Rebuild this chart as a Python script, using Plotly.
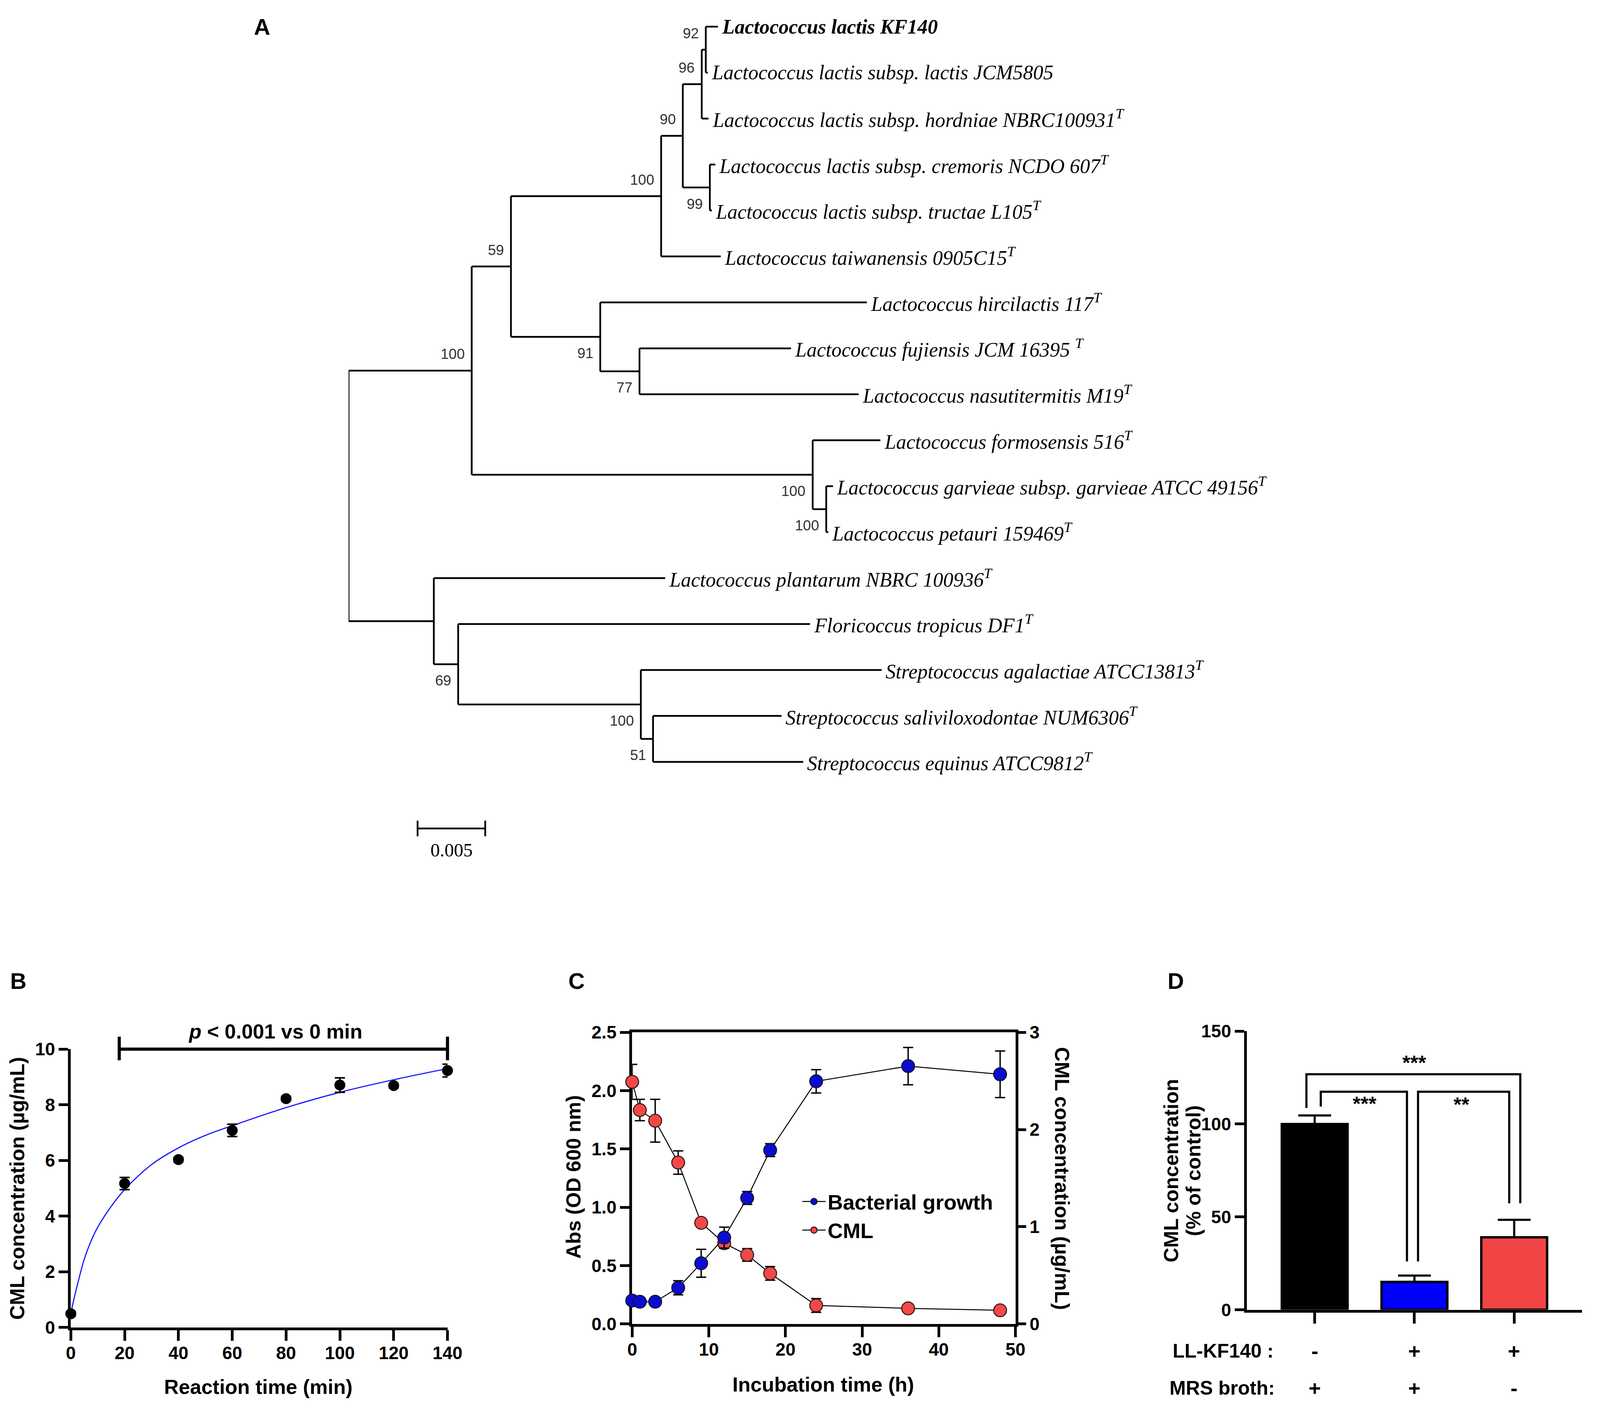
import plotly.graph_objects as go

W, H = 4550, 3623
SANS = "Liberation Sans, Arial, sans-serif"
SERIF = "Liberation Serif, Times New Roman, serif"

# ---------------- A: phylogenetic tree (nodes in preorder, children in display order)
node_parent = [-1, 0, 1, 2, 3, 4, 5, 6, 6, 5, 4, 10, 10, 3, 2, 14, 14, 16, 16,
               1, 19, 19, 21, 21, 0, 24, 24, 26, 26, 28, 28, 30, 30]
node_length = [0.0, 0.0091, 0.0029, 0.0111, 0.0016, 0.0014, 0.0003, 0.0009, 0.00015,
               0.0005, 0.0020, 0.0004, 0.00015, 0.0044, 0.0066, 0.0197, 0.0029, 0.0112,
               0.0162, 0.0252, 0.0050, 0.0010, 0.0005, 0.00015, 0.0063, 0.0171, 0.0018,
               0.0260, 0.0135, 0.0178, 0.0009, 0.0095, 0.0111]
node_support = [None, 100, 59, 100, 90, 96, 92, None, None, None, 99, None, None, None,
                91, None, 77, None, None, 100, None, 100, None, None, None, None, 69,
                None, 100, None, 51, None, None]
node_label = [
    "", "", "", "", "", "", "",
    "<b>Lactococcus lactis KF140</b>",
    "Lactococcus lactis subsp. lactis JCM5805",
    "Lactococcus lactis subsp. hordniae NBRC100931<sup>T</sup>",
    "",
    "Lactococcus lactis subsp. cremoris NCDO 607<sup>T</sup>",
    "Lactococcus lactis subsp. tructae L105<sup>T</sup>",
    "Lactococcus taiwanensis 0905C15<sup>T</sup>",
    "",
    "Lactococcus hircilactis 117<sup>T</sup>",
    "",
    "Lactococcus fujiensis JCM 16395 <sup>T</sup>",
    "Lactococcus nasutitermitis M19<sup>T</sup>",
    "",
    "Lactococcus formosensis 516<sup>T</sup>",
    "",
    "Lactococcus garvieae subsp. garvieae ATCC 49156<sup>T</sup>",
    "Lactococcus petauri 159469<sup>T</sup>",
    "",
    "Lactococcus plantarum NBRC 100936<sup>T</sup>",
    "",
    "Floricoccus tropicus DF1<sup>T</sup>",
    "",
    "Streptococcus agalactiae ATCC13813<sup>T</sup>",
    "",
    "Streptococcus saliviloxodontae NUM6306<sup>T</sup>",
    "Streptococcus equinus ATCC9812<sup>T</sup>",
]
scale_bar_length = 0.005

# ---------------- B: CML formation over reaction time
b_time = [0, 20, 40, 60, 80, 100, 120, 140]
b_cml = [0.49, 5.17, 6.03, 7.08, 8.22, 8.71, 8.69, 9.23]
b_err = [0.08, 0.22, 0.08, 0.22, 0.08, 0.26, 0.08, 0.23]
b_fit_time = [0, 1, 2.5, 5, 7.5, 10, 15, 20, 30, 40, 50, 60, 80, 100, 120, 140]
b_fit_cml = [0.5, 0.95, 1.55, 2.45, 3.1, 3.6, 4.35, 4.95, 5.85, 6.45, 6.9, 7.25,
             7.9, 8.45, 8.9, 9.3]
b_sig_text = "<i>p</i> < 0.001 vs 0 min"

# ---------------- C: growth and CML during incubation
c_time = [0, 1, 3, 6, 9, 12, 15, 18, 24, 36, 48]
c_abs = [0.20, 0.19, 0.19, 0.31, 0.52, 0.74, 1.08, 1.49, 2.08, 2.21, 2.14]
c_abs_err = [0.02, 0.02, 0.02, 0.06, 0.12, 0.09, 0.055, 0.055, 0.10, 0.16, 0.20]
c_cml = [2.49, 2.20, 2.09, 1.66, 1.04, 0.83, 0.71, 0.52, 0.19, 0.16, 0.14]
c_cml_err = [0.18, 0.11, 0.22, 0.12, 0.03, 0.05, 0.065, 0.07, 0.07, 0.02, 0.02]

# ---------------- D: CML relative to control
d_groups = [0, 1, 2]
d_values = [100, 15, 39]
d_err = [4.6, 3.4, 9.4]
d_colors = ["#000000", "#0000ff", "#f24444"]
d_ll_kf140 = ["-", "+", "+"]
d_mrs = ["+", "+", "-"]
d_pairs = [(0, 2, "***"), (0, 1, "***"), (1, 2, "**")]

# text / stroke sizes (css px)
TICK, TITLE, LETTER, TREE_TXT, BOOT_TXT = 46, 52, 58, 52, 37
AXIS_W = 7


def px_x(v):
    return v / W


def px_y(v):
    return 1 - v / H


def bold(size):
    return dict(family=SANS, size=size, color="black", weight="bold")


def prism_axis(**kw):
    ax = dict(showline=True, linecolor="black", linewidth=AXIS_W, ticks="outside",
              tickwidth=AXIS_W, ticklen=24, tickcolor="black", showgrid=False,
              zeroline=False, tickfont=bold(TICK), layer="below traces", fixedrange=True)
    ax.update(kw)
    return ax


def paper_text(text, x, y, size, angle=0, xanchor="center"):
    return dict(x=px_x(x), y=px_y(y), xref="paper", yref="paper", text=text,
                showarrow=False, textangle=angle, xanchor=xanchor, yanchor="middle",
                font=bold(size))


fig = go.Figure()
annotations = []
shapes = []

# ---- tree geometry from the node table
n = len(node_parent)
children = [[] for _ in range(n)]
for i, p in enumerate(node_parent):
    if p >= 0:
        children[p].append(i)
node_x = [0.0] * n
for i in range(n):
    if node_parent[i] >= 0:
        node_x[i] = node_x[node_parent[i]] + node_length[i]
node_y = [0.0] * n
leaf = 0
for i in range(n):
    if not children[i]:
        node_y[i] = leaf
        leaf += 1
for i in reversed(range(n)):
    if children[i]:
        node_y[i] = (node_y[children[i][0]] + node_y[children[i][-1]]) / 2

seg_x, seg_y = [], []
for i in range(n):
    p = node_parent[i]
    if p >= 0:
        seg_x += [node_x[p], node_x[i], None]
        seg_y += [node_y[i], node_y[i], None]
    if children[i]:
        seg_x += [node_x[i], node_x[i], None]
        seg_y += [node_y[children[i][0]], node_y[children[i][-1]], None]

fig.add_trace(go.Scatter(x=seg_x, y=seg_y, mode="lines", xaxis="x", yaxis="y",
                         line=dict(color="black", width=4.5), showlegend=False,
                         hoverinfo="skip"))

for i in range(n):
    if node_label[i]:
        annotations.append(dict(
            x=node_x[i], y=node_y[i], xref="x", yref="y", text=node_label[i],
            showarrow=False, xanchor="left", yanchor="middle", xshift=8,
            font=dict(family=SERIF, size=TREE_TXT, color="black", style="italic")))
    if node_support[i] is not None:
        first = children[node_parent[i]][0] == i
        annotations.append(dict(
            x=node_x[i], y=node_y[i], xref="x", yref="y", text=str(node_support[i]),
            showarrow=False, xanchor="right", yanchor="middle", xshift=-16,
            yshift=42 if first else -42,
            font=dict(family=SANS, size=BOOT_TXT, color="#333333")))

# scale bar
sb_x0, sb_y = 0.0051, 17.45
fig.add_trace(go.Scatter(
    x=[sb_x0, sb_x0 + scale_bar_length, None, sb_x0, sb_x0, None,
       sb_x0 + scale_bar_length, sb_x0 + scale_bar_length],
    y=[sb_y, sb_y, None, sb_y - 0.17, sb_y + 0.17, None, sb_y - 0.17, sb_y + 0.17],
    mode="lines", xaxis="x", yaxis="y", line=dict(color="black", width=4.5),
    showlegend=False, hoverinfo="skip"))
annotations.append(dict(x=sb_x0 + scale_bar_length / 2, y=sb_y, xref="x", yref="y",
                        text=str(scale_bar_length), showarrow=False, yshift=-55,
                        font=dict(family=SERIF, size=48, color="black")))

# ---- B
fig.add_trace(go.Scatter(x=b_fit_time, y=b_fit_cml, mode="lines", xaxis="x2", yaxis="y2",
                         line=dict(color="#1a1aff", width=3, shape="spline"),
                         showlegend=False))
fig.add_trace(go.Scatter(x=b_time, y=b_cml, mode="markers", xaxis="x2", yaxis="y2",
                         marker=dict(color="black", size=28),
                         error_y=dict(type="data", array=b_err, color="black",
                                      thickness=4, width=13),
                         cliponaxis=False, showlegend=False))
b_range_x, b_range_y = [0, 140], [0, 10]
sig_x0, sig_x1, sig_y = 18, 140, 10


def fx(v, r):
    return (v - r[0]) / (r[1] - r[0])


shapes.append(dict(type="path", xref="x2 domain", yref="y2 domain",
                   path="M{a},{t} L{a},{b} M{a},{m} L{c},{m} M{c},{t} L{c},{b}".format(
                       a=fx(sig_x0, b_range_x), c=fx(sig_x1, b_range_x),
                       m=fx(sig_y, b_range_y), t=fx(sig_y + 0.45, b_range_y),
                       b=fx(sig_y - 0.4, b_range_y)),
                   line=dict(color="black", width=8)))
annotations.append(dict(x=76, y=sig_y, xref="x2", yref="y2", text=b_sig_text,
                        showarrow=False, xanchor="center", yanchor="bottom", yshift=14,
                        font=bold(TITLE)))

# ---- C
fig.add_trace(go.Scatter(x=c_time, y=c_cml, name="CML", mode="lines+markers",
                         xaxis="x3", yaxis="y3", legendrank=2,
                         line=dict(color="black", width=2.5),
                         marker=dict(color="#f24848", size=33,
                                     line=dict(color="#301010", width=2.5)),
                         error_y=dict(type="data", array=c_cml_err, color="black",
                                      thickness=3.5, width=13),
                         cliponaxis=False))
fig.add_trace(go.Scatter(x=c_time, y=c_abs, name="Bacterial growth", mode="lines+markers",
                         xaxis="x3", yaxis="y4", legendrank=1,
                         line=dict(color="black", width=2.5),
                         marker=dict(color="#0c0cd0", size=33,
                                     line=dict(color="#101030", width=2.5)),
                         error_y=dict(type="data", array=c_abs_err, color="black",
                                      thickness=3.5, width=13),
                         cliponaxis=False))

# ---- D
fig.add_trace(go.Bar(x=d_groups, y=d_values, xaxis="x4", yaxis="y5", width=0.66,
                     marker=dict(color=d_colors, line=dict(color="black", width=6)),
                     error_y=dict(type="data", array=d_err, arrayminus=[0] * len(d_err),
                                  symmetric=False, color="black", thickness=5.5, width=42),
                     showlegend=False))

# bracket geometry: (left offset, right offset, top, left leg end, right leg end, label y)
bracket_geom = [(-0.083, 0.061, 126.8, 108.6, 57.3, 133.0),
                (0.061, -0.075, 117.4, 109.4, 26.0, 111.0),
                (0.036, -0.05, 117.4, 26.0, 57.3, 110.5)]
for (g0, g1, label), (o0, o1, top, e0, e1, ly) in zip(d_pairs, bracket_geom):
    xa, xb = g0 + o0, g1 + o1
    shapes.append(dict(type="path", xref="x4", yref="y5",
                       path=f"M{xa},{e0} L{xa},{top} L{xb},{top} L{xb},{e1}",
                       line=dict(color="black", width=5.5)))
    annotations.append(dict(x=(g0 + g1) / 2 if label != "**" else 1.47, y=ly,
                            xref="x4", yref="y5", text=label, showarrow=False,
                            xanchor="center", yanchor="middle", font=bold(TITLE)))

for g, a, m in zip(d_groups, d_ll_kf140, d_mrs):
    annotations.append(dict(x=g, y=px_y(3491), xref="x4", yref="paper", text=a,
                            showarrow=False, xanchor="center", yanchor="middle",
                            font=bold(54)))
    annotations.append(dict(x=g, y=px_y(3587), xref="x4", yref="paper", text=m,
                            showarrow=False, xanchor="center", yanchor="middle",
                            font=bold(54)))
annotations.append(paper_text("LL-KF140 :", 3660, 3491, 50, xanchor="right"))
annotations.append(paper_text("MRS broth:", 3664, 3587, 50, xanchor="right"))

# ---- titles and panel letters
titles = [
    ("CML concentration (µg/mL)", 27, 3066, -90),
    ("Reaction time (min)", 723, 3584, 0),
    ("Abs (OD 600 nm)", 1634, 3036, -90),
    ("CML concentration (µg/mL)", 3047, 3040, 90),
    ("Incubation time (h)", 2356, 3578, 0),
    ("CML concentration", 3362, 3020, -90),
    ("(% of control)", 3427, 3020, -90),
]
for text, x, y, ang in titles:
    annotations.append(paper_text(text, x, y, TITLE, angle=ang))
for letter, x, y in [("A", 734, 35), ("B", 29, 2525), ("C", 1643, 2525), ("D", 3375, 2525)]:
    annotations.append(paper_text(letter, x, y, LETTER))

tree_root_px, tree_px_per_unit = 984, 39120
tree_top_px, leaf_px = 35, 119.9

fig.update_layout(
    autosize=True, margin=dict(l=0, r=0, t=0, b=0, pad=0),
    paper_bgcolor="white", plot_bgcolor="white",
    xaxis=dict(domain=[px_x(tree_root_px), 1],
               range=[0, (W - tree_root_px) / tree_px_per_unit], visible=False,
               fixedrange=True),
    yaxis=dict(domain=[px_y(2250), 1],
               range=[(2250 - tree_top_px) / leaf_px, -tree_top_px / leaf_px],
               visible=False, fixedrange=True),
    xaxis2=prism_axis(domain=[px_x(181), px_x(1270)], range=b_range_x, anchor="y2",
                      tickvals=[0, 20, 40, 60, 80, 100, 120, 140], ticklen=27,
                      ticklabelstandoff=-8),
    yaxis2=prism_axis(domain=[px_y(3429), px_y(2703)], range=b_range_y, anchor="x2",
                      tickvals=[0, 2, 4, 6, 8, 10]),
    xaxis3=prism_axis(domain=[px_x(1804), px_x(2912)], range=[0, 50], anchor="y3",
                      tickvals=[0, 10, 20, 30, 40, 50], mirror=True, ticklen=27,
                      ticklabelstandoff=-8),
    yaxis3=prism_axis(domain=[px_y(3420), px_y(2659)], range=[0, 3], anchor="x3",
                      side="right", tickvals=[0, 1, 2, 3], ticklen=20),
    yaxis4=prism_axis(range=[0, 2.5], anchor="x3", overlaying="y3", side="left",
                      tickvals=[0, 0.5, 1.0, 1.5, 2.0, 2.5], tickformat=".1f"),
    xaxis4=prism_axis(domain=[px_x(3581), 1], range=[-0.68, 2.68], anchor="y5",
                      tickvals=d_groups, showticklabels=False, ticklen=28),
    yaxis5=prism_axis(domain=[px_y(3383), px_y(2656)], range=[0, 150], anchor="x4",
                      tickvals=[0, 50, 100, 150]),
    legend=dict(x=px_x(2290), y=px_y(3058), xanchor="left", yanchor="top",
                font=bold(54), bgcolor="rgba(0,0,0,0)", itemwidth=60,
                traceorder="normal"),
    annotations=annotations,
    shapes=shapes,
)

fig.write_html("out.html")
